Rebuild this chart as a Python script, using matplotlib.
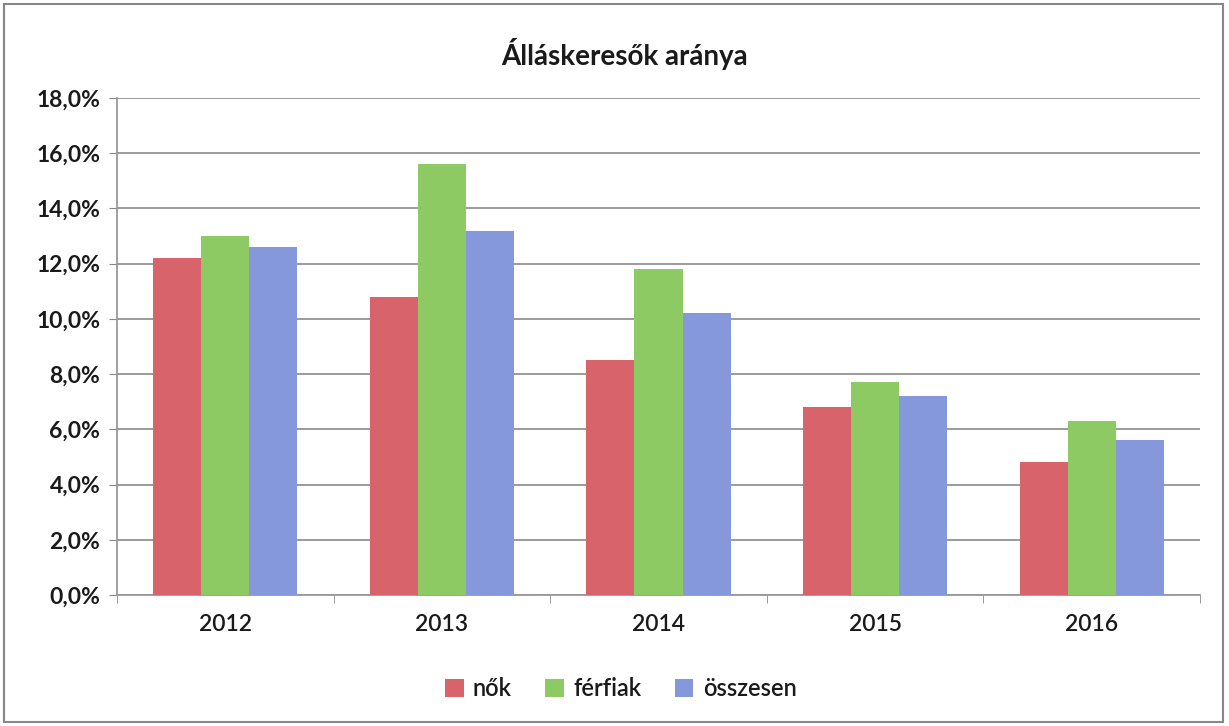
import numpy as np
import matplotlib.pyplot as plt
from matplotlib.patches import Rectangle
from matplotlib.ticker import FuncFormatter

plt.rcParams['font.family'] = ['Lato', 'DejaVu Sans']

# adatok
evek = ['2012', '2013', '2014', '2015', '2016']
nok = [12.2, 10.8, 8.5, 6.8, 4.8]
ferfiak = [13.0, 15.6, 11.8, 7.7, 6.3]
osszesen = [12.6, 13.2, 10.2, 7.2, 5.6]
sorozatok = ['nők', 'férfiak', 'összesen']
szinek = ['#D8636A', '#8DCA63', '#8498DB']

fig = plt.figure(figsize=(12.29, 7.26), dpi=100)
ax = fig.add_axes([0.0952, 0.1804, 0.8812, 0.6846])

x = np.arange(len(evek))
w = 0.222
for i, (vals, nev, c) in enumerate(zip([nok, ferfiak, osszesen], sorozatok, szinek)):
    ax.bar(x + (i - 1) * w, vals, width=w, color=c, label=nev, zorder=3)

ax.set_xlim(-0.5, len(evek) - 0.5)
ax.set_ylim(0, 18)
ax.set_yticks(np.arange(0, 18.1, 2))
ax.yaxis.set_major_formatter(FuncFormatter(lambda v, p: f'{v:.1f}%'.replace('.', ',')))
ax.set_xticks(x)
ax.set_xticklabels(evek)
ax.set_xticks(np.arange(-0.5, len(evek), 1), minor=True)
ax.tick_params(axis='x', which='major', length=0, pad=14, labelsize=16.5, colors='#1a1a1a')
ax.tick_params(axis='x', which='minor', length=6, color='#888888')
ax.tick_params(axis='y', length=6, color='#888888', labelsize=16.5, labelcolor='#1a1a1a', pad=6)
for t in ax.get_yticklabels():
    t.set_fontweight('bold')
for t in ax.get_xticklabels():
    t.set_fontweight('semibold')

ax.grid(axis='y', color='#8a8a8a', linewidth=1.2, zorder=0)
for s in ['top', 'right']:
    ax.spines[s].set_visible(False)
for s in ['left', 'bottom']:
    ax.spines[s].set_color('#999999')
    ax.spines[s].set_linewidth(1.3)

fig.text(0.508, 0.925, 'Álláskeresők aránya', ha='center', va='center',
         fontsize=20, fontweight='bold', color='#1a1a1a')

leg = fig.legend(loc='center', bbox_to_anchor=(0.505, 0.052), ncol=3, frameon=False,
                 prop={'size': 17, 'weight': 'semibold'}, handlelength=0.8,
                 handleheight=0.8, handletextpad=0.4, columnspacing=1.4)
for t in leg.get_texts():
    t.set_color('#1a1a1a')

fig.patches.append(Rectangle((0.003, 0.005), 0.992, 0.99, transform=fig.transFigure,
                             fill=False, edgecolor='#888888', linewidth=1.5))

fig.savefig('out.png', dpi=100)
